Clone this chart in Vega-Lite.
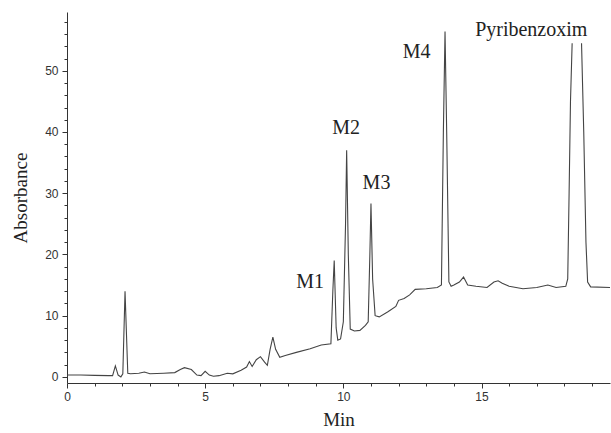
{
  "$schema": "https://vega.github.io/schema/vega-lite/v6.json",
  "autosize": "none",
  "width": 543,
  "height": 371,
  "padding": {"left": 67, "top": 12, "right": 1, "bottom": 50},
  "background": "white",
  "config": {"view": {"stroke": null}},
  "datasets": {
    "trace": [
      {"s": 1, "t": 0.0, "a": 0.3}, {"s": 1, "t": 0.5, "a": 0.3}, {"s": 1, "t": 1.0, "a": 0.25}, {"s": 1, "t": 1.5, "a": 0.2},
      {"s": 1, "t": 1.65, "a": 0.2}, {"s": 1, "t": 1.75, "a": 1.8}, {"s": 1, "t": 1.85, "a": 0.3}, {"s": 1, "t": 1.95, "a": 0.0},
      {"s": 1, "t": 2.02, "a": 0.5}, {"s": 1, "t": 2.1, "a": 14.0}, {"s": 1, "t": 2.2, "a": 0.6}, {"s": 1, "t": 2.3, "a": 0.5},
      {"s": 1, "t": 2.6, "a": 0.6}, {"s": 1, "t": 2.8, "a": 0.8}, {"s": 1, "t": 3.0, "a": 0.5}, {"s": 1, "t": 3.5, "a": 0.6},
      {"s": 1, "t": 3.9, "a": 0.7}, {"s": 1, "t": 4.1, "a": 1.2}, {"s": 1, "t": 4.25, "a": 1.5}, {"s": 1, "t": 4.5, "a": 1.2},
      {"s": 1, "t": 4.7, "a": 0.3}, {"s": 1, "t": 4.85, "a": 0.2}, {"s": 1, "t": 5.0, "a": 0.9}, {"s": 1, "t": 5.15, "a": 0.3},
      {"s": 1, "t": 5.3, "a": 0.1}, {"s": 1, "t": 5.5, "a": 0.2}, {"s": 1, "t": 5.8, "a": 0.6}, {"s": 1, "t": 6.0, "a": 0.5},
      {"s": 1, "t": 6.3, "a": 1.1}, {"s": 1, "t": 6.5, "a": 1.6}, {"s": 1, "t": 6.6, "a": 2.5}, {"s": 1, "t": 6.7, "a": 1.7},
      {"s": 1, "t": 6.85, "a": 2.8}, {"s": 1, "t": 7.0, "a": 3.3}, {"s": 1, "t": 7.15, "a": 2.4}, {"s": 1, "t": 7.25, "a": 1.9},
      {"s": 1, "t": 7.35, "a": 4.5}, {"s": 1, "t": 7.45, "a": 6.5}, {"s": 1, "t": 7.55, "a": 4.5}, {"s": 1, "t": 7.7, "a": 3.2},
      {"s": 1, "t": 7.9, "a": 3.5}, {"s": 1, "t": 8.3, "a": 4.0}, {"s": 1, "t": 8.8, "a": 4.6}, {"s": 1, "t": 9.2, "a": 5.2},
      {"s": 1, "t": 9.55, "a": 5.4}, {"s": 1, "t": 9.62, "a": 14}, {"s": 1, "t": 9.67, "a": 19.0}, {"s": 1, "t": 9.74, "a": 8},
      {"s": 1, "t": 9.8, "a": 6.0}, {"s": 1, "t": 9.9, "a": 6.2}, {"s": 1, "t": 10.0, "a": 9}, {"s": 1, "t": 10.08, "a": 25},
      {"s": 1, "t": 10.12, "a": 37.0}, {"s": 1, "t": 10.18, "a": 20}, {"s": 1, "t": 10.25, "a": 7.8}, {"s": 1, "t": 10.4, "a": 7.5},
      {"s": 1, "t": 10.6, "a": 7.6}, {"s": 1, "t": 10.8, "a": 8.4}, {"s": 1, "t": 10.9, "a": 9}, {"s": 1, "t": 10.96, "a": 20},
      {"s": 1, "t": 11.0, "a": 28.3}, {"s": 1, "t": 11.06, "a": 16}, {"s": 1, "t": 11.15, "a": 10}, {"s": 1, "t": 11.3, "a": 9.8},
      {"s": 1, "t": 11.6, "a": 10.6}, {"s": 1, "t": 11.9, "a": 11.5}, {"s": 1, "t": 12.0, "a": 12.5}, {"s": 1, "t": 12.2, "a": 12.8},
      {"s": 1, "t": 12.4, "a": 13.4}, {"s": 1, "t": 12.6, "a": 14.3}, {"s": 1, "t": 13.0, "a": 14.4}, {"s": 1, "t": 13.4, "a": 14.6},
      {"s": 1, "t": 13.55, "a": 15}, {"s": 1, "t": 13.62, "a": 40}, {"s": 1, "t": 13.68, "a": 56.4}, {"s": 1, "t": 13.74, "a": 40},
      {"s": 1, "t": 13.82, "a": 15.5}, {"s": 1, "t": 13.9, "a": 14.8}, {"s": 1, "t": 14.0, "a": 15}, {"s": 1, "t": 14.2, "a": 15.5},
      {"s": 1, "t": 14.35, "a": 16.3}, {"s": 1, "t": 14.5, "a": 15}, {"s": 1, "t": 14.8, "a": 14.8}, {"s": 1, "t": 15.2, "a": 14.6},
      {"s": 1, "t": 15.45, "a": 15.5}, {"s": 1, "t": 15.6, "a": 15.7}, {"s": 1, "t": 15.75, "a": 15.3}, {"s": 1, "t": 16.0, "a": 14.8},
      {"s": 1, "t": 16.5, "a": 14.4}, {"s": 1, "t": 17.0, "a": 14.6}, {"s": 1, "t": 17.4, "a": 15.0}, {"s": 1, "t": 17.7, "a": 14.6},
      {"s": 1, "t": 18.05, "a": 14.8}, {"s": 1, "t": 18.12, "a": 16}, {"s": 1, "t": 18.17, "a": 30}, {"s": 1, "t": 18.22, "a": 45},
      {"s": 1, "t": 18.28, "a": 54.5},
      {"s": 2, "t": 18.62, "a": 54.5}, {"s": 2, "t": 18.7, "a": 40}, {"s": 2, "t": 18.78, "a": 22},
      {"s": 2, "t": 18.84, "a": 15.5}, {"s": 2, "t": 18.95, "a": 14.7}, {"s": 2, "t": 19.65, "a": 14.6}
    ],
    "labels": [
      {"t": 8.8, "a": 15.5, "label": "M1"},
      {"t": 10.1, "a": 40.7, "label": "M2"},
      {"t": 11.2, "a": 31.7, "label": "M3"},
      {"t": 12.65, "a": 53.0, "label": "M4"},
      {"t": 16.8, "a": 56.7, "label": "Pyribenzoxim"}
    ]
  },
  "encoding": {
    "x": {
      "field": "t", "type": "quantitative",
      "scale": {"domain": [0, 19.65], "nice": false, "zero": false},
      "axis": {
        "title": "Min", "grid": false,
        "values": [0,1,2,3,4,5,6,7,8,9,10,11,12,13,14,15,16,17,18,19],
        "labelExpr": "datum.value % 5 === 0 ? datum.label : ''",
        "labelOverlap": false, "labelFlush": false, "labelBound": false,
        "tickSize": {"condition": {"test": "datum.value % 5 === 0", "value": 5}, "value": 3},
        "domainColor": "#333333", "tickColor": "#333333",
        "labelFont": "Liberation Sans", "labelFontSize": 12, "labelColor": "#333333",
        "labelPadding": 3,
        "titleFont": "Liberation Serif", "titleFontSize": 19, "titleFontWeight": "normal",
        "titleColor": "#222222", "titlePadding": 8
      }
    },
    "y": {
      "field": "a", "type": "quantitative",
      "scale": {"domain": [-1, 59.6], "nice": false, "zero": false},
      "axis": {
        "title": "Absorbance", "grid": false,
        "values": [0,2,4,6,8,10,12,14,16,18,20,22,24,26,28,30,32,34,36,38,40,42,44,46,48,50,52,54,56,58],
        "labelExpr": "datum.value % 10 === 0 ? datum.label : ''",
        "labelOverlap": false, "labelFlush": false, "labelBound": false,
        "tickSize": {"condition": {"test": "datum.value % 10 === 0", "value": 5}, "value": 3},
        "domainColor": "#333333", "tickColor": "#333333",
        "labelFont": "Liberation Sans", "labelFontSize": 12, "labelColor": "#333333",
        "labelPadding": 4,
        "titleFont": "Liberation Serif", "titleFontSize": 19, "titleFontWeight": "normal",
        "titleColor": "#222222", "titlePadding": 14
      }
    }
  },
  "layer": [
    {
      "data": {"name": "trace"},
      "mark": {"type": "line", "color": "#444444", "strokeWidth": 1.1, "clip": true},
      "encoding": {"detail": {"field": "s", "type": "nominal"}}
    },
    {
      "data": {"name": "labels"},
      "mark": {"type": "text", "font": "Liberation Serif", "fontSize": 20, "color": "#222222", "align": "center", "baseline": "middle"},
      "encoding": {
        "text": {"field": "label"}
      }
    }
  ]
}
